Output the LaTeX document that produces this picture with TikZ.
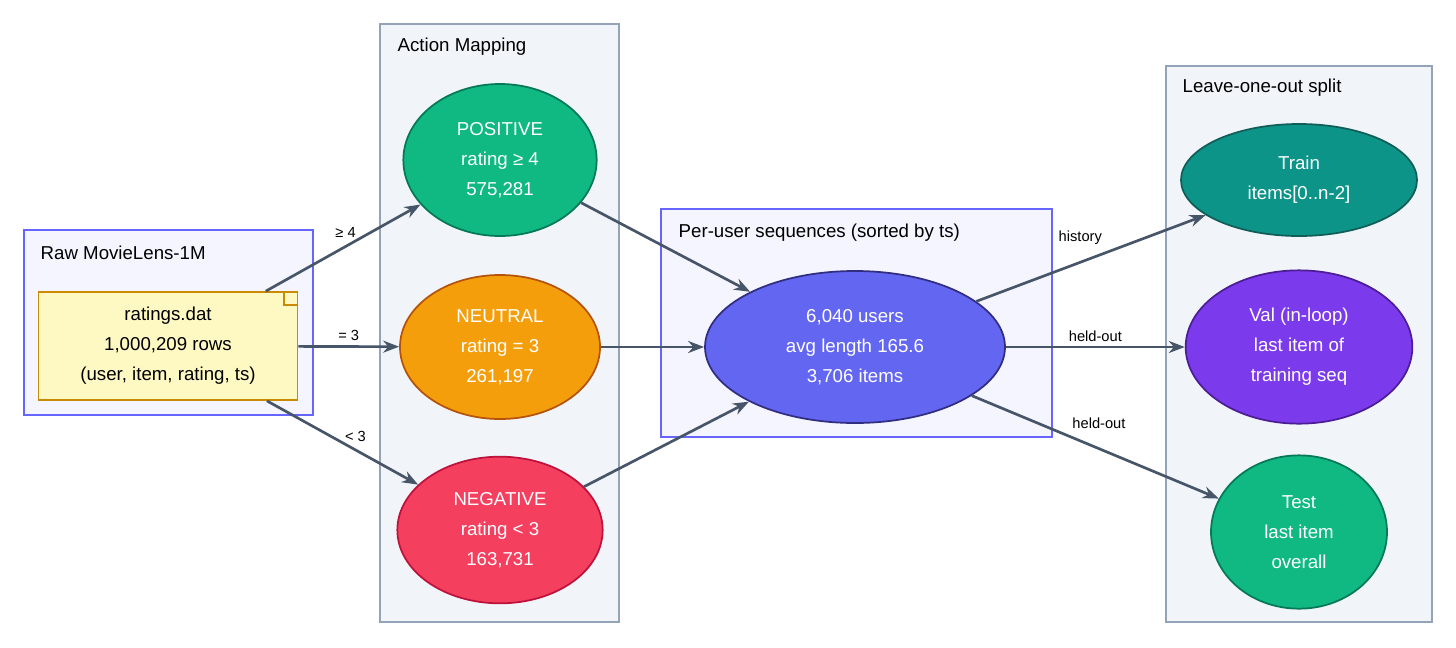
\documentclass[tikz,border=0pt]{standalone}
\usepackage{fontspec}
\setmainfont{Liberation Sans}
\usetikzlibrary{shapes.geometric,arrows.meta}
\definecolor{edgec}{HTML}{475569}
\tikzset{
 clusterA/.style={draw=#1, line width=0.9pt},
 ell/.style={ellipse, draw, line width=1.3pt, text=white, align=center, inner sep=0pt, font=\fontsize{14}{22.5}\selectfont},
 lbl/.style={anchor=west, font=\fontsize{14}{17}\selectfont},
 conn/.style={draw=edgec, line width=2pt, -{Stealth[length=12pt,width=9pt]}},
 elbl/.style={font=\fontsize{11}{13}\selectfont},
}
\begin{document}
\begin{tikzpicture}[x=0.75pt,y=-0.75pt]
\useasboundingbox (0,0) rectangle (1456,647);
% clusters
\filldraw[fill=blue!4!white, draw=blue!60!white, line width=0.9pt] (24,230) rectangle (313,415);
\node[lbl] (rawl) at (36,253) {Raw MovieLens-1M};
\filldraw[fill={rgb,255:red,241;green,245;blue,249}, draw={rgb,255:red,148;green,163;blue,184}, line width=0.9pt] (380,24) rectangle (619,622);
\node[lbl] (actl) at (393,47) {Action Mapping};
\filldraw[fill=blue!4!white, draw=blue!60!white, line width=0.9pt] (661,209) rectangle (1052,437);
\node[lbl] (seql) at (674,233) {Per-user sequences (sorted by ts)};
\filldraw[fill={rgb,255:red,241;green,245;blue,249}, draw={rgb,255:red,148;green,163;blue,184}, line width=0.9pt] (1166,66) rectangle (1432,622);
\node[lbl] (lool) at (1178,88) {Leave-one-out split};
% note
\node[draw={rgb,255:red,202;green,138;blue,4}, fill={rgb,255:red,254;green,249;blue,195}, line width=1.3pt, minimum width=194.25pt, minimum height=81pt, align=center, inner sep=0pt, font=\fontsize{14}{22.5}\selectfont] (note) at (168,346) {ratings.dat\\1,000,209 rows\\(user, item, rating, ts)};
\draw[draw={rgb,255:red,202;green,138;blue,4}, line width=1.3pt, fill={rgb,255:red,254;green,249;blue,195}] (284,292) -- (284,305) -- (297,305);
% ellipses
\node[ell, fill={rgb,255:red,16;green,185;blue,129}, draw={rgb,255:red,4;green,120;blue,87}, minimum width=145pt, minimum height=114pt] (pos) at (500,160) {POSITIVE\\rating ≥ 4\\575,281};
\node[ell, fill={rgb,255:red,245;green,158;blue,11}, draw={rgb,255:red,180;green,83;blue,9}, minimum width=150pt, minimum height=108pt] (neu) at (500,347) {NEUTRAL\\rating = 3\\261,197};
\node[ell, fill={rgb,255:red,244;green,63;blue,94}, draw={rgb,255:red,190;green,18;blue,60}, minimum width=154pt, minimum height=110pt] (neg) at (500,530) {NEGATIVE\\rating < 3\\163,731};
\node[ell, fill={rgb,255:red,99;green,102;blue,241}, draw={rgb,255:red,49;green,46;blue,129}, minimum width=225pt, minimum height=114pt] (usr) at (855,347) {6,040 users\\avg length 165.6\\3,706 items};
\node[ell, fill={rgb,255:red,13;green,148;blue,136}, draw={rgb,255:red,17;green,94;blue,89}, minimum width=177pt, minimum height=84pt] (train) at (1299,180) {Train\\items[0..n-2]};
\node[ell, fill={rgb,255:red,124;green,58;blue,237}, draw={rgb,255:red,76;green,29;blue,149}, minimum width=170pt, minimum height=115pt] (val) at (1299,347) {Val (in-loop)\\last item of\\training seq};
\node[ell, fill={rgb,255:red,16;green,185;blue,129}, draw={rgb,255:red,4;green,120;blue,87}, minimum width=132pt, minimum height=115pt] (test) at (1299,532) {Test\\last item\\overall};
% edges
\draw[conn] (note) -- (pos) node[elbl, pos=0.55, above, xshift=-4pt] {≥ 4};
\draw[conn] (note) -- (neu) node[elbl, pos=0.5, above] {= 3};
\draw[conn] (note) -- (neg) node[elbl, pos=0.55, above, xshift=4pt] {< 3};
\draw[conn] (pos) -- (usr);
\draw[conn] (neu) -- (usr);
\draw[conn] (neg) -- (usr);
\draw[conn] (usr) -- (train) node[elbl, pos=0.5, above, xshift=-8pt, yshift=6pt] {history};
\draw[conn] (usr) -- (val) node[elbl, pos=0.5, above] {held-out};
\draw[conn] (usr) -- (test) node[elbl, pos=0.45, above, xshift=12pt, yshift=6pt] {held-out};
\end{tikzpicture}
\end{document}
